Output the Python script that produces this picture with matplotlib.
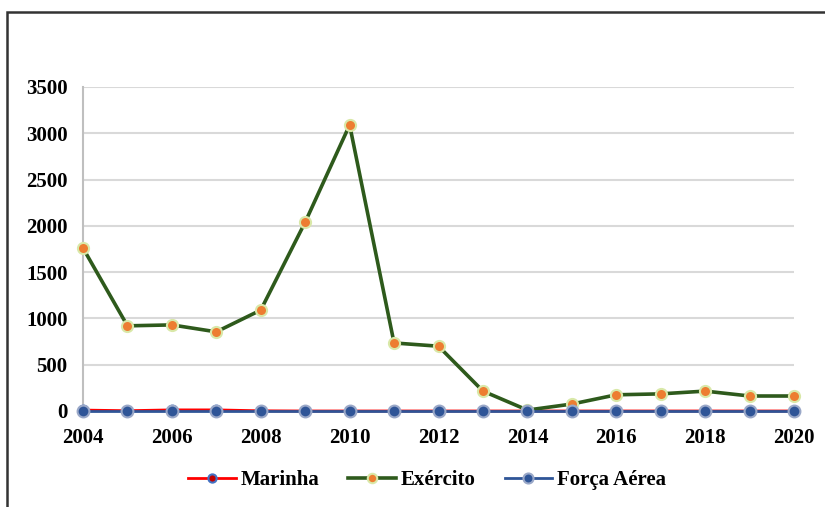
import matplotlib
matplotlib.use("Agg")
import matplotlib.pyplot as plt
from matplotlib.patches import Rectangle

years = list(range(2004, 2021))
marinha = [10, 3, 12, 12, 2, 0, 0, 0, 0, 0, 0, 0, 0, 0, 0, 0, 0]
exercito = [1760, 920, 930, 855, 1090, 2040, 3090, 735, 700, 215, 10, 75, 175, 185, 215, 162, 162]
forca_aerea = [0] * 17
xticks = [2004, 2006, 2008, 2010, 2012, 2014, 2016, 2018, 2020]
yticks = [0, 500, 1000, 1500, 2000, 2500, 3000, 3500]

plt.rcParams["font.family"] = ["Liberation Serif", "DejaVu Serif"]

fig = plt.figure(figsize=(8.25, 5.07), dpi=100)
ax = fig.add_axes([83 / 825, 1 - 411 / 507, (794 - 83) / 825, (411 - 87) / 507])

# outer frame
fig.patches.append(Rectangle((7 / 825, -0.05), 1.2, 1 - 12 / 507 + 0.05,
                             transform=fig.transFigure, fill=False,
                             edgecolor="#333333", linewidth=1.8, zorder=0))

ax.plot(years, marinha, color="#FF0000", lw=2.0, marker="o", ms=7,
        mfc="#C00000", mec="#4472C4", mew=1.5, label="Marinha", clip_on=False, zorder=3)
ax.plot(years, exercito, color="#2E5A1C", lw=2.6, marker="o", ms=8,
        mfc="#ED7D31", mec="#D9E8A8", mew=1.5, label="Exército", clip_on=False, zorder=4)
ax.plot(years, forca_aerea, color="#2F5597", lw=2.0, marker="o", ms=8.5,
        mfc="#2F5597", mec="#9AA8C8", mew=1.5, label="Força Aérea", clip_on=False, zorder=5)

ax.set_xlim(2004, 2020)
ax.set_ylim(0, 3500)
ax.set_xticks(xticks)
ax.set_yticks(yticks)
ax.tick_params(axis="y", length=0, labelsize=15, pad=11)
ax.tick_params(axis="x", length=0, labelsize=15, pad=12)
for lab in ax.get_xticklabels() + ax.get_yticklabels():
    lab.set_fontweight("bold")
ax.grid(axis="y", color="#D9D9D9", lw=1.5)
ax.set_axisbelow(True)
for s in ["top", "right", "bottom"]:
    ax.spines[s].set_visible(False)
ax.spines["left"].set_color("#BFBFBF")
ax.spines["left"].set_linewidth(1.5)

leg = fig.legend(loc="center", bbox_to_anchor=(427 / 825, 1 - 480 / 507), ncol=3,
                 frameon=False, prop={"weight": "bold", "size": 15},
                 handlelength=2.3, columnspacing=1.4, handletextpad=0.2,
                 markerscale=0.85)

fig.savefig("out.png", dpi=100)
